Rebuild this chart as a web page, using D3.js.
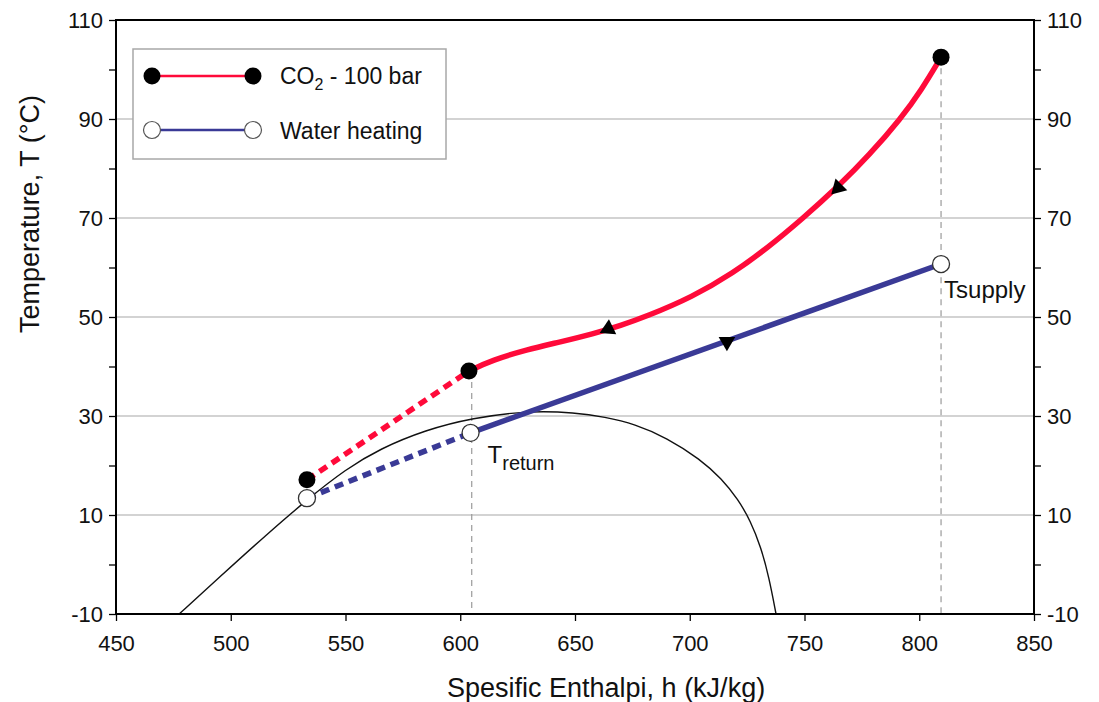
<!DOCTYPE html>
<html>
<head>
<meta charset="utf-8">
<script src="https://cdn.jsdelivr.net/npm/d3@7"></script>
<style>
  body { margin: 0; background: #fff; }
  svg { display: block; font-family: "Liberation Sans", Arial, sans-serif; }
</style>
</head>
<body>
<svg id="chart" width="1099" height="702"></svg>
<script>
// axis ticks
const hTicks = [450, 500, 550, 600, 650, 700, 750, 800, 850];
const tTicks = [-10, 0, 10, 20, 30, 40, 50, 60, 70, 80, 90, 100, 110];
const tLabels = [-10, 10, 30, 50, 70, 90, 110];

// CO2 gas cooler at 100 bar (h kJ/kg, T degC)
const co2Dashed = [[533.2, 17.1], [603.8, 39.1]];
const co2Curve = [
  [603.8, 39.1], [614, 41.3], [629, 43.4], [643, 44.9], [658, 46.6],
  [670, 48.3], [681, 50.1], [701, 54.0], [719, 58.9], [734, 64.0],
  [749, 69.8], [765, 76.5], [778, 82.6], [792, 90.1], [801, 95.9], [809.5, 102.5]
];
const co2Dots = [[533.2, 17.1], [603.8, 39.1], [809.5, 102.5]];

// water heating
const waterDashed = [[533.2, 13.4], [604.5, 26.6]];
const waterLine = [[604.5, 26.6], [809.5, 60.7]];
const waterDots = [[533.2, 13.4], [604.5, 26.6], [809.5, 60.7]];

// saturation dome
const dome = [
  [477.5, -10], [495, -2.6], [515, 5.8], [534, 13.4], [550, 19.2],
  [565, 23.4], [585, 27.2], [605, 29.6], [630, 31.1], [650, 30.7],
  [663, 29.8], [676, 28.4], [690, 25.6], [704.5, 21.3], [714, 17.3],
  [721, 13.2], [726.5, 8.8], [731, 3.5], [734.5, -2.5], [737.6, -10]
];

// flow direction markers
const co2Arrows = [[664.5, 47.6], [764.6, 76.1]];
const waterArrows = [[716.2, 45.0]];
const co2ArrowTurn = [4, -135];
const waterArrowTurn = [180];

// vertical guides (h, top T)
const guides = [[605, 39.1], [809.5, 102.5]];

const red = "#ff0a3a";
const blue = "#3a3a96";

const svg = d3.select("#chart");
const x = d3.scaleLinear().domain([450, 850]).range([116, 1034]);
const y = d3.scaleLinear().domain([-10, 110]).range([614, 20]);

const line = d3.line().x(d => x(d[0])).y(d => y(d[1]));
const smooth = d3.line().x(d => x(d[0])).y(d => y(d[1])).curve(d3.curveBasis);

// grid
svg.append("g")
  .selectAll("line")
  .data(tLabels.filter(d => d > -10 && d < 110))
  .enter()
  .append("line")
  .attr("x1", x(450)).attr("x2", x(850))
  .attr("y1", d => y(d)).attr("y2", d => y(d))
  .attr("stroke", "#c4c4c4")
  .attr("stroke-width", 1.5);

// guides
svg.append("g")
  .selectAll("line")
  .data(guides)
  .enter()
  .append("line")
  .attr("x1", d => x(d[0])).attr("x2", d => x(d[0]))
  .attr("y1", d => y(d[1])).attr("y2", y(-10))
  .attr("stroke", "#9a9a9a")
  .attr("stroke-width", 1.2)
  .attr("stroke-dasharray", "6,5");

// dome
svg.append("path")
  .attr("d", smooth(dome))
  .attr("fill", "none")
  .attr("stroke", "#111")
  .attr("stroke-width", 1.4);

// dashed parts
svg.append("path").attr("d", line(co2Dashed))
  .attr("fill", "none").attr("stroke", red).attr("stroke-width", 5.5)
  .attr("stroke-dasharray", "9,6");
svg.append("path").attr("d", line(waterDashed))
  .attr("fill", "none").attr("stroke", blue).attr("stroke-width", 5.5)
  .attr("stroke-dasharray", "9,6");

// solid parts
svg.append("path").attr("d", smooth(co2Curve))
  .attr("fill", "none").attr("stroke", red).attr("stroke-width", 5.5);
svg.append("path").attr("d", line(waterLine))
  .attr("fill", "none").attr("stroke", blue).attr("stroke-width", 5.5);

// arrows
const tri = d3.symbol().type(d3.symbolTriangle).size(120);
svg.append("g")
  .selectAll("path")
  .data(co2Arrows.map((d, i) => [d, co2ArrowTurn[i]]).concat(waterArrows.map((d, i) => [d, waterArrowTurn[i]])))
  .enter()
  .append("path")
  .attr("d", tri)
  .attr("transform", d => `translate(${x(d[0][0])},${y(d[0][1])}) rotate(${d[1]})`)
  .attr("fill", "#000");

// dots
svg.append("g")
  .selectAll("circle")
  .data(co2Dots)
  .enter()
  .append("circle")
  .attr("cx", d => x(d[0])).attr("cy", d => y(d[1]))
  .attr("r", 8.5).attr("fill", "#000");
svg.append("g")
  .selectAll("circle")
  .data(waterDots)
  .enter()
  .append("circle")
  .attr("cx", d => x(d[0])).attr("cy", d => y(d[1]))
  .attr("r", 8.5).attr("fill", "#fff")
  .attr("stroke", "#333").attr("stroke-width", 1.3);

// point labels
const tRet = svg.append("text")
  .attr("x", x(waterDots[1][0]) + 17)
  .attr("y", y(waterDots[1][1]) + 30)
  .attr("font-size", 24).attr("fill", "#111");
tRet.append("tspan").text("T");
tRet.append("tspan").attr("font-size", 20).attr("dy", 7).text("return");

svg.append("text")
  .attr("x", x(waterDots[2][0]) + 3)
  .attr("y", y(waterDots[2][1]) + 34)
  .attr("font-size", 24).attr("fill", "#111")
  .text("Tsupply");

// axes
const tickFmt = d => tLabels.includes(d) ? d : "";
const left = svg.append("g")
  .attr("transform", `translate(${x(450)},0)`)
  .call(d3.axisLeft(y).tickValues(tTicks).tickFormat(tickFmt).tickSize(7).tickPadding(6));
const right = svg.append("g")
  .attr("transform", `translate(${x(850)},0)`)
  .call(d3.axisRight(y).tickValues(tTicks).tickFormat(tickFmt).tickSize(7).tickPadding(6));
const bottom = svg.append("g")
  .attr("transform", `translate(0,${y(-10)})`)
  .call(d3.axisBottom(x).tickValues(hTicks).tickSize(7).tickPadding(14));

[left, right, bottom].forEach(g => {
  g.select(".domain").remove();
  g.selectAll(".tick line").attr("stroke", "#000").attr("stroke-width", 1.3);
  g.selectAll(".tick text")
    .attr("font-size", 22)
    .attr("font-family", "Liberation Sans, Arial, sans-serif")
    .attr("fill", "#111");
});

svg.append("rect")
  .attr("x", x(450)).attr("y", y(110))
  .attr("width", x(850) - x(450)).attr("height", y(-10) - y(110))
  .attr("fill", "none").attr("stroke", "#000").attr("stroke-width", 2);

// axis titles
svg.append("text")
  .attr("x", 447).attr("y", 697)
  .attr("font-size", 27).attr("fill", "#111")
  .text("Spesific Enthalpi, h (kJ/kg)");
svg.append("text")
  .attr("transform", "translate(39,214) rotate(-90)")
  .attr("text-anchor", "middle")
  .attr("font-size", 27).attr("fill", "#111")
  .text("Temperature, T (°C)");

// legend
const lg = svg.append("g");
lg.append("rect")
  .attr("x", 133).attr("y", 49).attr("width", 313).attr("height", 110)
  .attr("fill", "#fff").attr("stroke", "#a8a8a8").attr("stroke-width", 1.5);

const legendRows = [
  { color: red, dot: "#000", ring: "none", y: 76 },
  { color: blue, dot: "#fff", ring: "#555", y: 130 }
];
legendRows.forEach(r => {
  lg.append("line")
    .attr("x1", 152).attr("x2", 253).attr("y1", r.y).attr("y2", r.y)
    .attr("stroke", r.color).attr("stroke-width", 2.5);
  [152, 253].forEach(cx => {
    lg.append("circle")
      .attr("cx", cx).attr("cy", r.y).attr("r", 8.5)
      .attr("fill", r.dot).attr("stroke", r.ring).attr("stroke-width", 1.2);
  });
});
const co2Text = lg.append("text").attr("x", 280).attr("y", 84)
  .attr("font-size", 23).attr("fill", "#111");
co2Text.append("tspan").text("CO");
co2Text.append("tspan").attr("font-size", 16).attr("dy", 6).text("2");
co2Text.append("tspan").attr("dy", -6).text(" - 100 bar");
lg.append("text").attr("x", 280).attr("y", 139)
  .attr("font-size", 23).attr("fill", "#111")
  .text("Water heating");
</script>
</body>
</html>
